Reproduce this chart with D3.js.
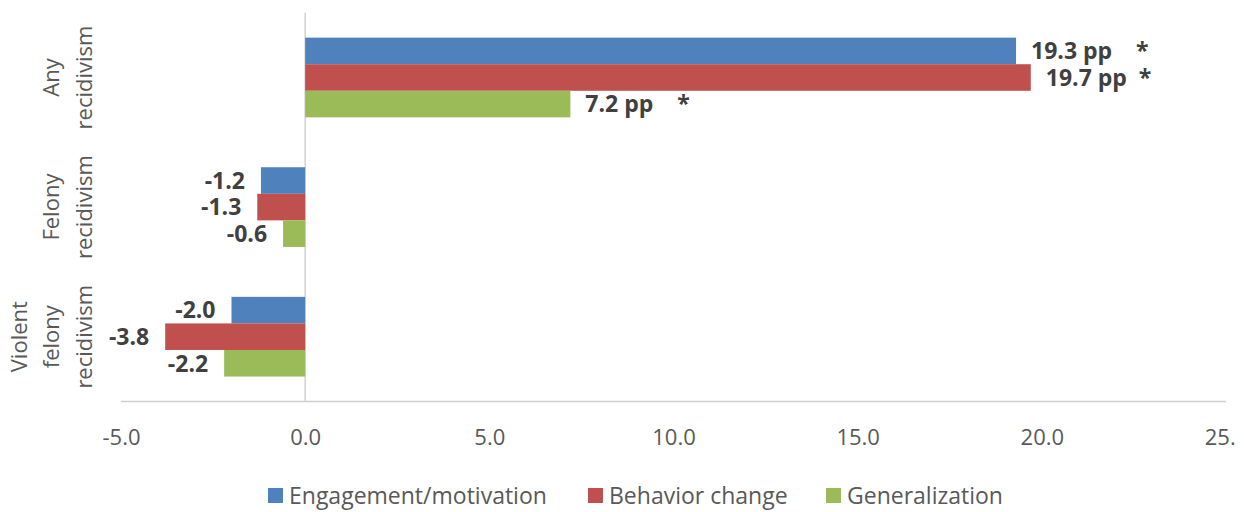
<!DOCTYPE html>
<html>
<head>
<meta charset="utf-8">
<script src="https://cdn.jsdelivr.net/npm/d3@7"></script>
<style>
  html, body { margin: 0; padding: 0; background: #fff; }
  svg { display: block; font-family: "Open Sans", "Noto Sans", sans-serif; }
</style>
</head>
<body>
<svg id="chart" width="1244" height="512"></svg>
<script>
// Outcome categories (top to bottom) and their wrapped label lines
const categories = ["Any recidivism", "Felony recidivism", "Violent felony recidivism"];
const categoryLines = [["Any", "recidivism"], ["Felony", "recidivism"], ["Violent", "felony", "recidivism"]];

// Series
const seriesNames = ["Engagement/motivation", "Behavior change", "Generalization"];
const seriesColors = ["#4F81BD", "#C0504D", "#9BBB59"];
const engagementValues = [19.3, -1.2, -2.0];
const behaviorValues = [19.7, -1.3, -3.8];
const generalizationValues = [7.2, -0.6, -2.2];
// Statistical significance marker per category
const engagementSig = [true, false, false];
const behaviorSig = [true, false, false];
const generalizationSig = [true, false, false];
// Spaces between the value text and the significance asterisk
const engagementStarPad = [3, 0, 0];
const behaviorStarPad = [1, 0, 0];
const generalizationStarPad = [3, 0, 0];

// Axis ticks
const xTicks = [-5, 0, 5, 10, 15, 20, 25];
const xTickLabels = ["-5.0", "0.0", "5.0", "10.0", "15.0", "20.0", "25.0"];

const series = [
  { name: seriesNames[0], color: seriesColors[0], values: engagementValues, sig: engagementSig, pad: engagementStarPad },
  { name: seriesNames[1], color: seriesColors[1], values: behaviorValues, sig: behaviorSig, pad: behaviorStarPad },
  { name: seriesNames[2], color: seriesColors[2], values: generalizationValues, sig: generalizationSig, pad: generalizationStarPad }
];

const svg = d3.select("#chart");

// Clip the whole chart to its own area (the last tick label is cut at the edge)
svg.append("defs").append("clipPath").attr("id", "chartClip")
  .append("rect").attr("x", 0).attr("y", 0).attr("width", 1236).attr("height", 512);
const root = svg.append("g").attr("clip-path", "url(#chartClip)");

const plot = { left: 121, right: 1226, top: 12.7, bottom: 401.5 };

const x = d3.scaleLinear().domain([-5, 25]).range([plot.left, plot.right]);
const y = d3.scaleBand().domain(categories).range([plot.top, plot.bottom])
  .paddingInner(0.385).paddingOuter(0.1925);
const ySub = d3.scaleBand().domain(seriesNames).range([0, y.bandwidth()]).padding(0);

// Horizontal category axis line along the bottom
root.append("line")
  .attr("x1", plot.left).attr("x2", plot.right)
  .attr("y1", plot.bottom).attr("y2", plot.bottom)
  .attr("stroke", "#d0d0d0").attr("stroke-width", 1.5);

// Vertical zero line
root.append("line")
  .attr("x1", x(0)).attr("x2", x(0))
  .attr("y1", plot.top).attr("y2", plot.bottom)
  .attr("stroke", "#d0d0d0").attr("stroke-width", 1.5);

// X axis tick labels
const xAxis = d3.axisBottom(x).tickValues(xTicks)
  .tickFormat((d, i) => xTickLabels[i]).tickSize(0).tickPadding(0);
const xg = root.append("g").attr("transform", `translate(0,${plot.bottom})`).call(xAxis);
xg.select(".domain").remove();
xg.selectAll("text")
  .attr("y", 36).attr("dy", "0.35em")
  .attr("fill", "#595959").style("font-size", "22px").style("font-family", "\"Open Sans\", sans-serif");

// Bars
const groups = root.selectAll("g.series").data(series).join("g").attr("class", "series");
groups.selectAll("rect")
  .data(s => s.values.map((v, i) => ({ v, cat: categories[i], s })))
  .join("rect")
  .attr("x", d => x(Math.min(0, d.v)))
  .attr("width", d => Math.abs(x(d.v) - x(0)))
  .attr("y", d => y(d.cat) + ySub(d.s.name))
  .attr("height", ySub.bandwidth())
  .attr("fill", d => d.s.color);

// Data labels (hyphen-minus for negatives)
const fmt = v => d3.format(".1f")(v).replace("\u2212", "-");
groups.selectAll("text.val")
  .data(s => s.values.map((v, i) => ({ v, i, cat: categories[i], s })))
  .join("text")
  .attr("class", "val")
  .attr("x", d => d.v >= 0 ? x(d.v) + 15 : x(d.v) - 16)
  .attr("y", d => y(d.cat) + ySub(d.s.name) + ySub.bandwidth() / 2)
  .attr("dy", "0.36em")
  .attr("text-anchor", d => d.v >= 0 ? "start" : "end")
  .attr("fill", "#404040")
  .style("font-size", "23px").style("font-weight", "bold")
  .style("white-space", "pre")
  .text(d => {
    let t = d.v >= 0 ? `${fmt(d.v)} pp` : fmt(d.v);
    if (d.s.sig[d.i]) t += " ".repeat(d.s.pad[d.i] + 1) + "*";
    return t;
  });

// Category labels (rotated, multi-line, last line nearest the plot)
const lineGap = 32.5;
const lastLineX = 84;
categories.forEach((c, ci) => {
  const lines = categoryLines[ci];
  const cy = y(c) + y.bandwidth() / 2;
  lines.forEach((ln, li) => {
    const cx = lastLineX - (lines.length - 1 - li) * lineGap;
    root.append("text")
      .attr("transform", `translate(${cx},${cy}) rotate(-90)`)
      .attr("text-anchor", "middle")
      .attr("dy", "0.35em")
      .attr("fill", "#595959")
      .style("font-size", "22px")
      .text(ln);
  });
});

// Legend
const legendItems = [
  { name: seriesNames[0], color: seriesColors[0], x: 268 },
  { name: seriesNames[1], color: seriesColors[1], x: 588 },
  { name: seriesNames[2], color: seriesColors[2], x: 826 }
];
const lg = root.selectAll("g.legend").data(legendItems).join("g")
  .attr("class", "legend")
  .attr("transform", d => `translate(${d.x},488)`);
lg.append("rect").attr("width", 15).attr("height", 15).attr("fill", d => d.color);
lg.append("text")
  .attr("x", 21).attr("y", 7.5).attr("dy", "0.36em")
  .attr("fill", "#595959").style("font-size", "23px")
  .text(d => d.name);
</script>
</body>
</html>
